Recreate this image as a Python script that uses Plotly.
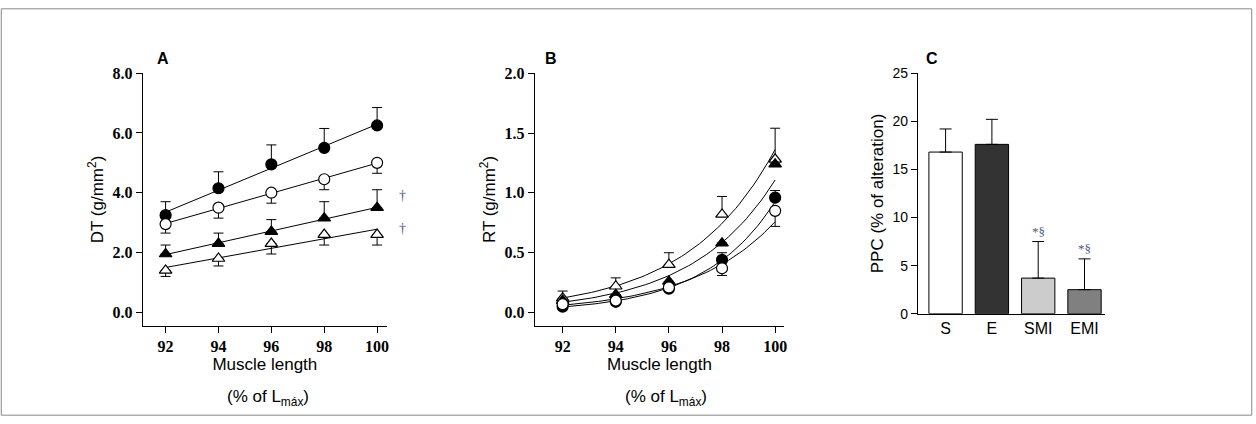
import numpy as np
import plotly.graph_objects as go

W, H = 1256, 424
lengths = [92, 94, 96, 98, 100]

# Panel A: DT (g/mm2)
dt_fc = [3.25, 4.15, 4.95, 5.5, 6.25]; dt_fc_err = [0.45, 0.55, 0.65, 0.65, 0.6]
dt_oc = [2.95, 3.5, 4.0, 4.45, 5.0]; dt_oc_err = [0.3, 0.35, 0.35, 0.35, 0.35]
dt_ft = [1.95, 2.3, 2.7, 3.15, 3.5]; dt_ft_err = [0.3, 0.35, 0.4, 0.55, 0.6]
dt_ot = [1.4, 1.8, 2.3, 2.6, 2.6]; dt_ot_err = [0.2, 0.25, 0.35, 0.35, 0.35]

# Panel B: RT (g/mm2)
rt_ot = [0.12, 0.22, 0.4, 0.82, 1.28]; rt_ot_err = [0.06, 0.07, 0.1, 0.15, 0.26]
rt_ft = [0.1, 0.15, 0.26, 0.58, 1.24]; rt_ft_err = [0.0, 0.0, 0.0, 0.0, 0.0]
rt_fc = [0.05, 0.09, 0.2, 0.44, 0.96]; rt_fc_err = [0.0, 0.0, 0.0, 0.06, 0.06]
rt_oc = [0.07, 0.1, 0.21, 0.37, 0.85]; rt_oc_err = [0.0, 0.0, 0.0, 0.06, 0.13]

# Panel C: PPC
groups = ["S", "E", "SMI", "EMI"]
ppc = [16.8, 17.6, 3.7, 2.5]
ppc_err = [2.4, 2.6, 3.8, 3.2]
ppc_colors = ["white", "#333333", "#cccccc", "#808080"]
ppc_marks = ["", "", "*§", "*§"]

fig = go.Figure()

def px(x): return (x + 3) / W
def py(y): return 1 - ((y - 8) / 0.96) / H

sym = {"fc": ("circle", "black"), "oc": ("circle", "white"),
       "ft": ("triangle-up", "black"), "ot": ("triangle-up", "white")}

def add_series(xa, ya, y, err, kind, upper, fit):
    xs = np.array(lengths, float)
    xf = np.linspace(92, 100, 60)
    if fit == "lin":
        c = np.polyfit(xs, y, 1); yf = np.polyval(c, xf)
    else:
        c = np.polyfit(xs, np.log(y), 1); yf = np.exp(np.polyval(c, xf))
    fig.add_trace(go.Scatter(x=xf, y=yf, mode="lines", line=dict(color="black", width=1),
                             xaxis=xa, yaxis=ya, showlegend=False, hoverinfo="skip"))
    e = dict(type="data", array=err, arrayminus=[0]*5, color="black", thickness=1, width=5) if upper else \
        dict(type="data", array=[0]*5, arrayminus=err, color="black", thickness=1, width=5)
    s, col = sym[kind]
    fig.add_trace(go.Scatter(x=lengths, y=y, mode="markers", error_y=e,
                             marker=dict(symbol=s, size=11, color=col, line=dict(color="black", width=1.2)),
                             xaxis=xa, yaxis=ya, showlegend=False))

add_series("x", "y", dt_fc, dt_fc_err, "fc", True, "lin")
add_series("x", "y", dt_oc, dt_oc_err, "oc", False, "lin")
add_series("x", "y", dt_ft, dt_ft_err, "ft", True, "lin")
add_series("x", "y", dt_ot, dt_ot_err, "ot", False, "lin")

add_series("x2", "y2", rt_ot, rt_ot_err, "ot", True, "exp")
add_series("x2", "y2", rt_ft, rt_ft_err, "ft", True, "exp")
add_series("x2", "y2", rt_fc, rt_fc_err, "fc", True, "exp")
add_series("x2", "y2", rt_oc, rt_oc_err, "oc", False, "exp")

fig.add_trace(go.Bar(x=groups, y=ppc, marker=dict(color=ppc_colors, line=dict(color="black", width=1)),
                     error_y=dict(type="data", array=ppc_err, arrayminus=[0]*4, color="black", thickness=1, width=6),
                     width=0.72, xaxis="x3", yaxis="y3", showlegend=False))

ydom = [py(325), py(73)]
tickfont = dict(family="Liberation Serif", size=16, color="black", weight="bold")
common = dict(showline=True, linecolor="black", ticks="outside", ticklen=6, tickcolor="black",
              showgrid=False, zeroline=False, tickfont=tickfont)
tfont = dict(family="Liberation Sans", size=17, color="black")
xtitle = dict(text="Muscle length", font=tfont, standoff=2)

def xr(a0, a1, p92, p100):
    s = (p100 - p92) / 8
    return [92 - (p92 - a0) / s, 100 + (a1 - p100) / s]

fig.update_layout(
    width=W, height=H, margin=dict(l=0, r=0, t=0, b=0),
    paper_bgcolor="white", plot_bgcolor="white",
    xaxis=dict(domain=[px(140), px(385)], range=xr(140, 385, 163, 375), tickvals=lengths, anchor="y", title=xtitle, **common),
    yaxis=dict(domain=ydom, range=[-0.45, 8.0], tickvals=[0, 2, 4, 6, 8], tickformat=".1f", anchor="x",
               title=dict(text="DT (g/mm<sup>2</sup>)", font=tfont, standoff=4), **common),
    xaxis2=dict(domain=[px(533), px(783)], range=xr(533, 783, 561, 774), tickvals=lengths, anchor="y2", title=xtitle, **common),
    yaxis2=dict(domain=ydom, range=[-0.11, 2.0], tickvals=[0, 0.5, 1, 1.5, 2], tickformat=".1f", anchor="x2",
                title=dict(text="RT (g/mm<sup>2</sup>)", font=tfont, standoff=4), **common),
    xaxis3=dict(domain=[px(917), px(1105)], range=[-0.6, 3.45], anchor="y3", showline=True, linecolor="black",
                ticks="", tickfont=dict(family="Liberation Sans", size=16, color="black")),
    yaxis3=dict(domain=[py(313), py(73)], range=[0, 25], tickvals=[0, 5, 10, 15, 20, 25], anchor="x3",
                title=dict(text="PPC (% of alteration)", font=tfont, standoff=4),
                **{**common, "tickfont": dict(family="Liberation Sans", size=14, color="black")}),
)

for xc in [266, 665]:
    fig.add_annotation(x=px(xc), y=py(397), xref="paper", yref="paper", text="(% of L<sub>máx</sub>)",
                       showarrow=False, font=tfont, xanchor="center", yanchor="middle")
for lab, xp in [("A", 152), ("B", 541), ("C", 923)]:
    fig.add_annotation(x=px(xp), y=py(48), xref="paper", yref="paper", text="<b>" + lab + "</b>", showarrow=False,
                       font=dict(family="Liberation Sans", size=16, color="black"), xanchor="left")
for yv in [3.9, 2.8]:
    fig.add_annotation(x=px(395), y=yv, xref="paper", yref="y", text="†", showarrow=False,
                       font=dict(family="Liberation Serif", size=14, color="#4a5a80"))
for g, v, e, m in zip(groups, ppc, ppc_err, ppc_marks):
    if m:
        fig.add_annotation(x=g, y=v + e, xref="x3", yref="y3", text=m, showarrow=False, yshift=10,
                           font=dict(family="Liberation Serif", size=13, color="#4a5a80"))

fig.add_shape(type="rect", xref="paper", yref="paper", x0=0.001, y0=0.002, x1=0.999, y1=0.998,
              line=dict(color="#888888", width=1))

fig.write_html("out.html", config={"displayModeBar": False},
               post_script="document.body.style.margin='0';document.body.style.overflow='hidden';")
